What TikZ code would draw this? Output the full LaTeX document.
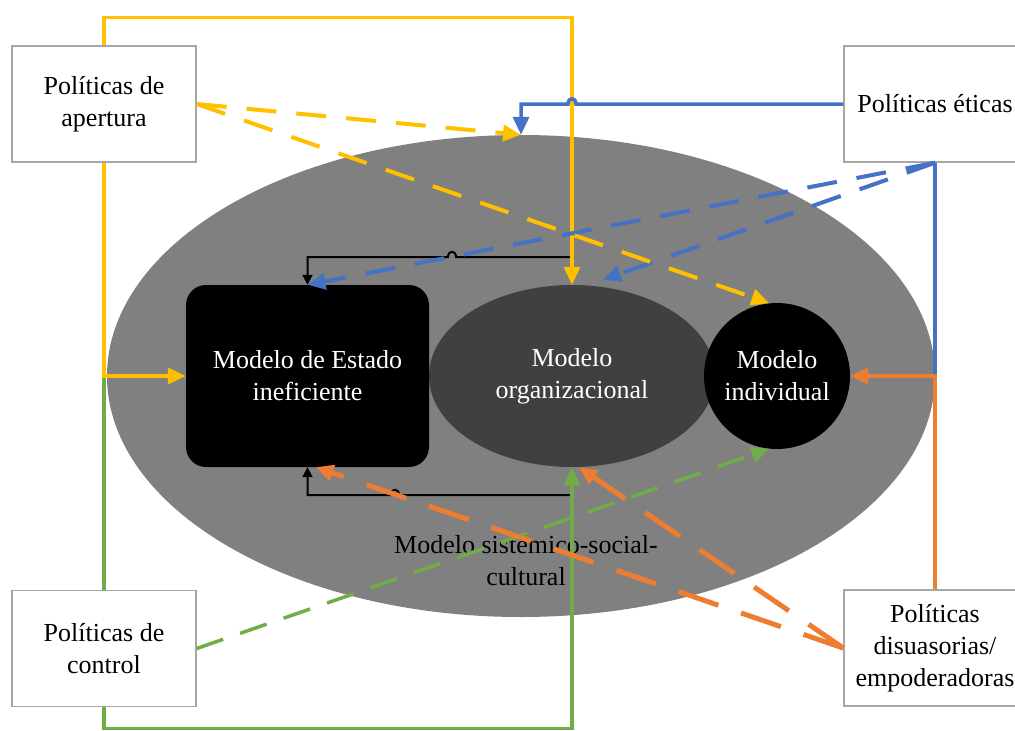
\documentclass[tikz,border=0pt]{standalone}
\usepackage{fontspec}
\setmainfont{Liberation Serif}
\usetikzlibrary{shapes.geometric,arrows.meta,calc}
\definecolor{cy}{HTML}{FFC000}
\definecolor{cb}{HTML}{4472C4}
\definecolor{cg}{HTML}{70AD47}
\definecolor{co}{HTML}{ED7D31}
\definecolor{sysgray}{HTML}{808080}
\definecolor{orggray}{HTML}{404040}
\definecolor{boxgray}{HTML}{A6A6A6}
\begin{document}
\begin{tikzpicture}[x=1pt,y=-1pt,
  txt/.style={font=\fontsize{26}{32}\selectfont, align=center},
  pbox/.style={txt, draw=boxgray, line width=1.5pt, fill=white, minimum width=184pt, minimum height=116pt, inner sep=0pt},
  tip/.style={-{Triangle[length=18pt,width=16pt]}},
  smalltip/.style={-{Triangle[length=10pt,width=10pt]}},
  kline/.style={draw=black, line width=2pt},
  ysolid/.style={draw=cy, line width=3.5pt},
  bsolid/.style={draw=cb, line width=3.5pt},
  gsolid/.style={draw=cg, line width=3.5pt},
  osolid/.style={draw=co, line width=3.5pt},
  ydash/.style={draw=cy, line width=4pt, dash pattern=on 30pt off 20pt},
  bdash/.style={draw=cb, line width=4pt, dash pattern=on 30pt off 20pt},
  gdash/.style={draw=cg, line width=3.5pt, dash pattern=on 28pt off 18pt},
  odash/.style={draw=co, line width=5pt, dash pattern=on 42pt off 24pt}
]
\useasboundingbox (0,0) rectangle (1015,731);
\fill[white] (0,0) rectangle (1015,731);

% shapes
\node[ellipse, fill=sysgray, minimum width=828pt, minimum height=482pt, inner sep=0pt] (sys) at (521,376) {};
\node[txt] (systxt) at (526,561) {Modelo sistémico-social-\\cultural};
\node[ellipse, fill=orggray, minimum width=286pt, minimum height=182pt, inner sep=0pt, txt, text=white] (org) at (572,376) {Modelo\\organizacional};
\node[rounded corners=20pt, fill=black, minimum width=243pt, minimum height=182pt, inner sep=0pt, txt, text=white] (st) at (307.5,376) {Modelo de Estado\\ineficiente};
\node[circle, fill=black, minimum size=146pt, inner sep=0pt, txt, text=white] (ind) at (777,376) {Modelo\\individual};

% policy boxes
\node[pbox] (ap) at (104,104) {Políticas de\\apertura};
\node[pbox, minimum width=182pt] (et) at (935,104) {Políticas éticas};
\node[pbox] (ctl) at (104,648.5) {Políticas de\\control};
\node[pbox, minimum width=182pt] (dis) at (935,648) {Políticas\\disuasorias/\\empoderadoras};

% black feedback lines
\coordinate (k1) at (572,257);
\coordinate (k2) at (572,495);
\draw[kline, smalltip] (k1) -- (456,257) .. controls (456,250) and (448,250) .. (448,257) -| (st.north);
\draw[kline, smalltip] (k2) -- (399,495) .. controls (399,488) and (391,488) .. (391,495) -| (st.south);

% solid connectors
\draw[ysolid, tip] (ap.north) -- ++(0,-28) -| (org.north);
\draw[gsolid] (ctl.north) -- (ctl.north |- st.west);
\draw[ysolid, tip] (ap.south) |- (st.west);
\draw[gsolid, tip] (ctl.south) -- ++(0,21) -| (org.south);
\draw[bsolid, tip] (et.west) -- (576,104) .. controls (576,97) and (568,97) .. (568,104) -| (sys.north);
\draw[bsolid] (et.south) -- (et.south |- ind.east);
\draw[osolid, tip] (dis.north) |- (ind.east);

% dashed connectors
\draw[bdash, tip] (et.south) -- (st.north);
\draw[bdash, tip] (et.south) -- ($(org.north)+(31,-5)$);
\draw[ydash, tip] (ap.east) -- (sys.north);
\draw[ydash, tip] (ap.east) -- (ind.96);
\draw[gdash, tip] (ctl.east) -- (ind.264);
\draw[odash, tip] (dis.west) -- ($(st.south)+(8,0)$);
\draw[odash, tip] (dis.west) -- ($(org.south)+(7,0)$);
\end{tikzpicture}
\end{document}
